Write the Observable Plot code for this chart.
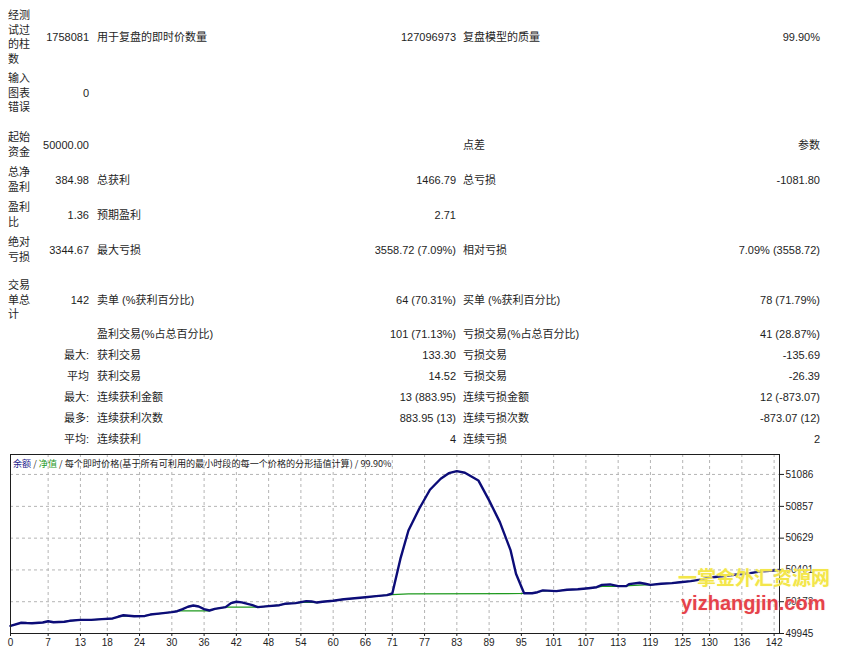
<!DOCTYPE html>
<html>
<head>
<meta charset="utf-8">
<script src="https://cdn.jsdelivr.net/npm/d3@7"></script>
<script src="https://cdn.jsdelivr.net/npm/@observablehq/plot@0.6"></script>
<style>
  html, body { margin: 0; padding: 0; background: #fff; }
  body { width: 844px; height: 650px; position: relative; overflow: hidden;
         font-family: "Liberation Sans", "Noto Sans CJK SC", sans-serif; font-size: 11px; color: #1e1e1e; }
  #report { position: absolute; left: 0; top: 0; width: 844px; height: 452px; }
  .row { position: absolute; left: 0; width: 844px; display: flex; align-items: center; transform: translateY(-50%); line-height: 14px; }
  .c1 { margin-left: 8px; width: 24px; line-height: 14.5px; word-break: break-all; }
  .c2 { width: 57px; text-align: right; white-space: nowrap; }
  .pair { display: flex; justify-content: space-between; align-items: center; white-space: nowrap; }
  .pair span { line-height: 14px; height: 14px; display: block; }
  .p1 { margin-left: 8px; width: 359px; }
  .p2 { margin-left: 7px; width: 357px; }
  #chart { position: absolute; left: 0; top: 452px; }
  .wm1 { position: absolute; left: 678px; top: 565px; font-size: 19px; font-weight: bold; color: #f3e64a;
         font-family: "Noto Sans CJK SC", sans-serif; text-shadow: 0 0 2px #fffbd0; line-height: 24px; }
  .wm2 { position: absolute; left: 681px; top: 590px; font-size: 20px; font-weight: bold; color: #e5424a;
         font-family: "Liberation Sans", sans-serif; text-shadow: 0 0 2px #ffe0e0; line-height: 26px; }
</style>
</head>
<body>
<div id="report"></div>
<div id="chart"></div>
<div class="wm1">一掌金外汇资源网</div>
<div class="wm2">yizhangjin.com</div>
<script>
// ---- report table texts ----
const rowLabels   = ["经测试过的柱数", "输入图表错误", "起始资金", "总净盈利", "盈利比", "绝对亏损", "交易单总计", "", "", "", "", "", ""];
const rowValues   = ["1758081", "0", "50000.00", "384.98", "1.36", "3344.67", "142", "", "最大:", "平均", "最大:", "最多:", "平均:"];
const midLabels   = ["用于复盘的即时价数量", "", "", "总获利", "预期盈利", "最大亏损", "卖单 (%获利百分比)", "盈利交易(%占总百分比)", "获利交易", "获利交易", "连续获利金额", "连续获利次数", "连续获利"];
const midValues   = ["127096973", "", "", "1466.79", "2.71", "3558.72 (7.09%)", "64 (70.31%)", "101 (71.13%)", "133.30", "14.52", "13 (883.95)", "883.95 (13)", "4"];
const rightLabels = ["复盘模型的质量", "", "点差", "总亏损", "", "相对亏损", "买单 (%获利百分比)", "亏损交易(%占总百分比)", "亏损交易", "亏损交易", "连续亏损金额", "连续亏损次数", "连续亏损"];
const rightValues = ["99.90%", "", "参数", "-1081.80", "", "7.09% (3558.72)", "78 (71.79%)", "41 (28.87%)", "-135.69", "-26.39", "12 (-873.07)", "-873.07 (12)", "2"];

// ---- chart data (trade number, balance / equity) ----
const balanceTrade = [0, 2, 3, 4, 6, 7, 8, 10, 11, 13, 15, 17, 19, 20, 21, 23, 25, 26, 28, 30, 31, 32, 33, 34, 35, 36, 37, 38, 40, 41, 42, 43, 45, 46, 48, 50, 51, 53, 55, 56, 57, 58, 60, 62, 64, 66, 68, 70, 71, 72.5, 74, 76, 78, 80, 81.5, 83, 84.5, 87, 89, 91, 93, 94, 95.5, 97, 98, 99, 101.5, 103.5, 105.5, 107.5, 109, 110, 111.5, 113, 114.5, 115, 117, 118, 119, 121, 123, 124.5, 126.5, 128.5, 130, 132.5, 135, 137.5, 140, 143];
const balanceValue = [50000, 50022, 50020, 50019, 50024, 50033, 50026, 50029, 50036, 50043, 50043, 50048, 50053, 50065, 50076, 50069, 50071, 50081, 50089, 50098, 50105, 50120, 50137, 50146, 50139, 50120, 50110, 50122, 50134, 50163, 50173, 50168, 50148, 50134, 50141, 50148, 50158, 50163, 50177, 50175, 50167, 50173, 50180, 50191, 50198, 50205, 50213, 50220, 50232, 50480, 50684, 50840, 50976, 51055, 51095, 51110, 51098, 51043, 50900, 50744, 50541, 50373, 50234, 50234, 50241, 50254, 50249, 50259, 50262, 50270, 50277, 50294, 50297, 50285, 50285, 50299, 50309, 50302, 50294, 50302, 50306, 50313, 50321, 50333, 50347, 50356, 50368, 50378, 50392, 50400];
const equityTrade = [0, 2, 3, 4, 6, 7, 8, 10, 11, 13, 15, 17, 19, 20, 21, 23, 25, 26, 28, 30, 31, 32, 37, 38, 40, 46, 48, 50, 51, 53, 55, 57, 58, 60, 62, 64, 66, 68, 70, 71, 74, 95.5, 97, 98, 99, 101.5, 103.5, 105.5, 107.5, 109, 110, 112, 114.5, 115, 117, 118, 119, 121, 123, 124.5, 126.5, 128.5, 130, 132.5, 135, 137.5, 140, 143];
const equityValue = [50000, 50022, 50020, 50019, 50024, 50033, 50026, 50029, 50036, 50043, 50043, 50048, 50053, 50065, 50072, 50069, 50071, 50081, 50089, 50098, 50105, 50108, 50108, 50122, 50134, 50134, 50141, 50148, 50158, 50163, 50170, 50167, 50173, 50180, 50191, 50198, 50205, 50213, 50220, 50224, 50229, 50232, 50234, 50241, 50252, 50249, 50259, 50262, 50270, 50277, 50283, 50283, 50285, 50289, 50292, 50294, 50294, 50302, 50306, 50313, 50321, 50333, 50347, 50356, 50368, 50378, 50392, 50400];
const xTicks = [0, 7, 13, 18, 24, 30, 36, 42, 48, 54, 60, 66, 71, 77, 83, 89, 95, 101, 107, 113, 119, 125, 130, 136, 142];
const yTicks = [49945, 50173, 50401, 50629, 50857, 51086];

// ---- build report ----
const rowCenters = [37, 93, 144, 179, 214, 249, 300, 334, 355, 376, 397, 418, 439];
const report = d3.select("#report");
rowLabels.forEach((lab, i) => {
  const row = report.append("div").attr("class", "row").style("top", rowCenters[i] + "px");
  row.append("div").attr("class", "c1").text(lab);
  row.append("div").attr("class", "c2").text(rowValues[i]);
  const p1 = row.append("div").attr("class", "pair p1");
  p1.append("span").text(midLabels[i]);
  p1.append("span").text(midValues[i]);
  const p2 = row.append("div").attr("class", "pair p2");
  p2.append("span").text(rightLabels[i]);
  p2.append("span").text(rightValues[i]);
});

// ---- chart ----
const balance = balanceTrade.map((t, i) => ({t, v: balanceValue[i]}));
const equity = equityTrade.map((t, i) => ({t, v: equityValue[i]}));
const fmt = d3.format("d");

const chart = Plot.plot({
  width: 844,
  height: 198,
  marginTop: 2,
  marginBottom: 17,
  marginLeft: 10,
  marginRight: 65,
  style: {fontFamily: "Liberation Sans, Noto Sans CJK SC, sans-serif", fontSize: "10px", color: "#1e1e1e", background: "#fff"},
  x: {domain: [0, 143]},
  y: {domain: [49945, 51229]},
  marks: [
    Plot.gridX(xTicks, {stroke: "#b4b4b4", strokeOpacity: 1, strokeDasharray: "3,3"}),
    Plot.gridY(yTicks, {stroke: "#b4b4b4", strokeOpacity: 1, strokeDasharray: "3,3"}),
    Plot.line(equity, {x: "t", y: "v", stroke: "#1f9a1f", strokeWidth: 1.2}),
    Plot.line(balance, {x: "t", y: "v", stroke: "#0c0c78", strokeWidth: 2.4}),
    Plot.frame({stroke: "#1e1e1e"}),
    Plot.axisX(xTicks, {tickSize: 3, tickPadding: 2, label: null, tickFormat: fmt}),
    Plot.axisY(yTicks, {anchor: "right", tickSize: 4, tickPadding: 2, label: null, tickFormat: fmt})
  ]
});
document.getElementById("chart").appendChild(chart);

const title = d3.select(chart).append("text")
  .attr("x", 13).attr("y", 15)
  .attr("text-anchor", "start")
  .style("font-family", "Noto Sans CJK SC, Liberation Sans, sans-serif")
  .style("font-size", "9.1px");
title.append("tspan").attr("fill", "#1c1c8c").text("余额");
title.append("tspan").attr("fill", "#333").text(" / ");
title.append("tspan").attr("fill", "#1f9a1f").text("净值");
title.append("tspan").attr("fill", "#222").text(" / 每个即时价格(基于所有可利用的最小时段的每一个价格的分形插值计算) / 99.90%");
</script>
</body>
</html>
